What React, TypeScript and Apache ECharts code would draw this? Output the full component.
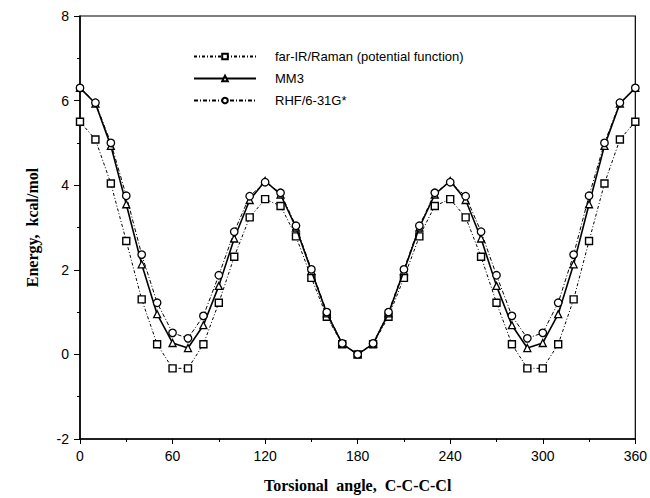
import React, { useEffect, useRef } from "react";
import * as echarts from "echarts";

const angles = [0, 10, 20, 30, 40, 50, 60, 70, 80, 90, 100, 110, 120, 130, 140, 150, 160, 170, 180,
  190, 200, 210, 220, 230, 240, 250, 260, 270, 280, 290, 300, 310, 320, 330, 340, 350, 360];

const farIR = [5.5, 5.08, 4.04, 2.68, 1.3, 0.24, -0.33, -0.33, 0.24, 1.22, 2.31, 3.24, 3.67, 3.51, 2.79, 1.81, 0.89, 0.24, 0,
  0.24, 0.89, 1.81, 2.79, 3.51, 3.67, 3.24, 2.31, 1.22, 0.24, -0.33, -0.33, 0.24, 1.3, 2.68, 4.04, 5.08, 5.5];

const mm3 = [6.3, 5.93, 4.93, 3.55, 2.13, 0.95, 0.27, 0.15, 0.69, 1.62, 2.74, 3.65, 4.1, 3.78, 3.0, 1.97, 0.97, 0.25, 0,
  0.25, 0.97, 1.97, 3.0, 3.78, 4.1, 3.65, 2.74, 1.62, 0.69, 0.15, 0.27, 0.95, 2.13, 3.55, 4.93, 5.93, 6.3];

const rhf = [6.3, 5.95, 5.0, 3.75, 2.36, 1.22, 0.51, 0.38, 0.91, 1.87, 2.9, 3.74, 4.07, 3.82, 3.04, 2.01, 1.0, 0.26, 0,
  0.26, 1.0, 2.01, 3.04, 3.82, 4.07, 3.74, 2.9, 1.87, 0.91, 0.38, 0.51, 1.22, 2.36, 3.75, 5.0, 5.95, 6.3];

const seriesNames = ["far-IR/Raman (potential function)", "MM3", "RHF/6-31G*"];

const xTitle = "Torsional  angle,  C-C-C-Cl";
const yTitle = "Energy,  kcal/mol";

export default function App() {
  const ref = useRef<HTMLDivElement>(null);
  useEffect(() => {
    if (!ref.current) return;
    const chart = echarts.init(ref.current, null, { renderer: "svg" });
    const pair = (vals: number[]) => angles.map((a, i) => [a, vals[i]]);
    const labelFont = { fontFamily: "Liberation Sans", fontSize: 14, color: "#000" };
    chart.setOption({
      animation: false,
      backgroundColor: "#fff",
      grid: {
        left: 80,
        right: 13,
        top: 16,
        bottom: 57,
        show: true,
        borderColor: "#000",
        borderWidth: 1.2,
        backgroundColor: "transparent",
      },
      legend: {
        orient: "vertical",
        left: 188,
        top: 45,
        itemWidth: 62,
        itemHeight: 7,
        itemGap: 9,
        textStyle: { fontFamily: "Liberation Sans", fontSize: 13, color: "#000", padding: [0, 0, 0, 14] },
        data: seriesNames,
      },
      xAxis: {
        type: "value",
        min: 0,
        max: 360,
        interval: 60,
        name: xTitle,
        nameLocation: "middle",
        nameGap: 38,
        nameTextStyle: { fontFamily: "Liberation Serif", fontWeight: "bold", fontSize: 16, color: "#000" },
        axisLine: { show: true, onZero: false, lineStyle: { color: "#000", width: 1.5 } },
        axisTick: { show: true, inside: false, length: 5, lineStyle: { color: "#000" } },
        minorTick: { show: true, splitNumber: 2, length: 3, lineStyle: { color: "#000" } },
        axisLabel: { ...labelFont, margin: 10 },
        splitLine: { show: false },
      },
      yAxis: {
        type: "value",
        min: -2,
        max: 8,
        interval: 2,
        name: yTitle,
        nameLocation: "middle",
        nameGap: 40,
        nameTextStyle: { fontFamily: "Liberation Serif", fontWeight: "bold", fontSize: 16, color: "#000" },
        axisLine: { show: true, onZero: false, lineStyle: { color: "#000", width: 1.5 } },
        axisTick: { show: true, inside: false, length: 6, lineStyle: { color: "#000" } },
        minorTick: { show: true, splitNumber: 2, length: 3, lineStyle: { color: "#000" } },
        axisLabel: { ...labelFont, margin: 11 },
        splitLine: { show: false },
      },
      series: [
        {
          name: seriesNames[0],
          type: "line",
          data: pair(farIR),
          symbol: "rect",
          symbolSize: 7,
          showAllSymbol: true,
          lineStyle: { color: "#000", width: 1, type: [3, 2, 1, 2] },
          itemStyle: { color: "#fff", borderColor: "#000", borderWidth: 1.4 },
          z: 3,
        },
        {
          name: seriesNames[1],
          type: "line",
          data: pair(mm3),
          symbol: "triangle",
          symbolSize: 7,
          showAllSymbol: true,
          lineStyle: { color: "#000", width: 1.6, type: "solid" },
          itemStyle: { color: "#fff", borderColor: "#000", borderWidth: 1.3 },
          z: 4,
        },
        {
          name: seriesNames[2],
          type: "line",
          data: pair(rhf),
          symbol: "circle",
          symbolSize: 7.5,
          showAllSymbol: true,
          lineStyle: { color: "#000", width: 1, type: [4, 2, 1, 2] },
          itemStyle: { color: "#fff", borderColor: "#000", borderWidth: 1.3 },
          z: 5,
        },
      ],
    });
    return () => chart.dispose();
  }, []);
  return <div ref={ref} style={{ width: 650, height: 498, position: "absolute", left: 0, top: 0 }} />;
}
